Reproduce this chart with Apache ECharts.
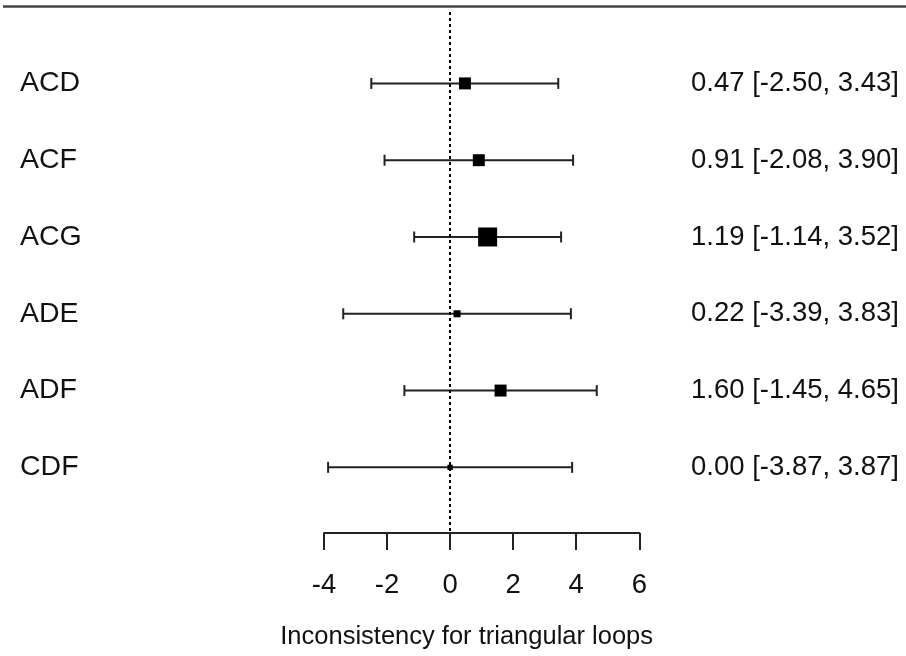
<!DOCTYPE html>
<html>
<head>
<meta charset="utf-8">
<script src="https://cdn.jsdelivr.net/npm/echarts@6/dist/echarts.min.js"></script>
<style>
html,body{margin:0;padding:0;background:#fff;}
#c{width:906px;height:656px;}
</style>
</head>
<body>
<div id="c"></div>
<script>
// ---- data ----
var loops = ['ACD', 'ACF', 'ACG', 'ADE', 'ADF', 'CDF'];
var estimates = [0.47, 0.91, 1.19, 0.22, 1.60, 0.00];
var lowerCI = [-2.50, -2.08, -1.14, -3.39, -1.45, -3.87];
var upperCI = [3.43, 3.90, 3.52, 3.83, 4.65, 3.87];
var boxWeight = [0.63, 0.63, 1.0, 0.37, 0.63, 0.28];
var xTicks = [-4, -2, 0, 2, 4, 6];

function fmt(v) { return v.toFixed(2); }

var rows = loops.map(function (name, i) {
  return [estimates[i], lowerCI[i], upperCI[i], i + 1, boxWeight[i]];
});

var FONT = 'Liberation Sans, Arial, sans-serif';
var chart = echarts.init(document.getElementById('c'));

chart.setOption({
  animation: false,
  backgroundColor: '#fff',
  grid: { left: 324, right: 266.7, top: 12, bottom: 123 },
  xAxis: {
    type: 'value', min: xTicks[0], max: xTicks[xTicks.length - 1], interval: 2,
    splitLine: { show: false },
    axisLine: { show: true, onZero: false, lineStyle: { color: '#222', width: 2 } },
    axisTick: { show: true, length: 17, lineStyle: { color: '#222', width: 2 } },
    axisLabel: { color: '#111', fontSize: 27.5, fontFamily: FONT, margin: 38 },
    name: 'Inconsistency for triangular loops',
    nameLocation: 'middle', nameGap: 91,
    nameTextStyle: { color: '#111', fontSize: 25.5, fontFamily: FONT, padding: [0, 30, 0, 0] }
  },
  yAxis: {
    type: 'value', inverse: true, min: 0.07, max: 6.855, show: false
  },
  graphic: [{
    type: 'line', shape: { x1: 3, y1: 6.5, x2: 906, y2: 6.5 },
    style: { stroke: '#444', lineWidth: 2.5 }
  }],
  series: [{
    type: 'line', data: [],
    markLine: {
      silent: true, symbol: 'none', label: { show: false },
      lineStyle: { type: [3, 3], color: '#000', width: 2 },
      data: [{ xAxis: 0 }]
    }
  }, {
    type: 'custom',
    data: rows,
    encode: { x: [0, 1, 2], y: 3 },
    renderItem: function (params, api) {
      var est = api.value(0), lo = api.value(1), hi = api.value(2), r = api.value(3), w = api.value(4);
      var pE = api.coord([est, r]);
      var pL = api.coord([lo, r]);
      var pH = api.coord([hi, r]);
      var size = w * 19;
      var cap = 5.5;
      var idx = params.dataIndex;
      var ls = { stroke: '#222', lineWidth: 2 };
      return {
        type: 'group',
        children: [
          { type: 'line', shape: { x1: pL[0], y1: pL[1], x2: pH[0], y2: pH[1] }, style: ls },
          { type: 'line', shape: { x1: pL[0], y1: pL[1] - cap, x2: pL[0], y2: pL[1] + cap }, style: ls },
          { type: 'line', shape: { x1: pH[0], y1: pH[1] - cap, x2: pH[0], y2: pH[1] + cap }, style: ls },
          { type: 'rect', shape: { x: pE[0] - size / 2, y: pE[1] - size / 2, width: size, height: size }, style: { fill: '#000' } },
          { type: 'text', x: 20, y: pE[1], style: { text: loops[idx], fill: '#111', font: '28.5px ' + FONT, textAlign: 'left', textVerticalAlign: 'middle' } },
          { type: 'text', x: 691, y: pE[1], style: { text: fmt(estimates[idx]) + ' [' + fmt(lowerCI[idx]) + ', ' + fmt(upperCI[idx]) + ']', fill: '#111', font: '27.5px ' + FONT, textAlign: 'left', textVerticalAlign: 'middle' } }
        ]
      };
    }
  }]
});
</script>
</body>
</html>
